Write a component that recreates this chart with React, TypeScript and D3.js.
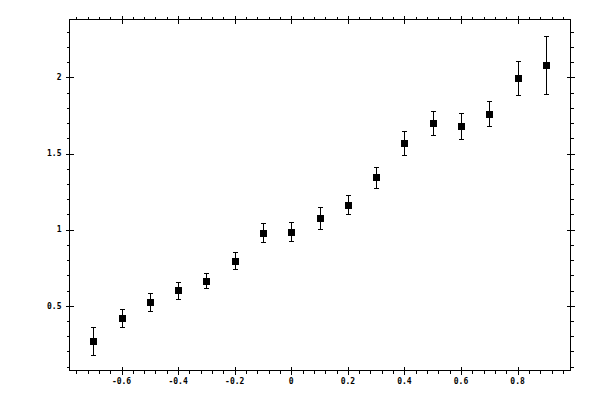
import React from 'react';
import * as d3 from 'd3';

const xValues = [-0.7, -0.6, -0.5, -0.4, -0.3, -0.2, -0.1, 0, 0.1, 0.2, 0.3, 0.4, 0.5, 0.6, 0.7, 0.8, 0.9];
const yValues = [0.27, 0.42, 0.526, 0.603, 0.664, 0.795, 0.981, 0.986, 1.077, 1.165, 1.343, 1.569, 1.70, 1.681, 1.76, 1.996, 2.083];
const yErrors = [0.09, 0.062, 0.06, 0.056, 0.05, 0.056, 0.063, 0.063, 0.07, 0.065, 0.07, 0.08, 0.078, 0.084, 0.082, 0.11, 0.19];

const xMajorTicks = [-0.6, -0.4, -0.2, 0, 0.2, 0.4, 0.6, 0.8];
const xTickLabels = ['-0.6', '-0.4', '-0.2', '0', '0.2', '0.4', '0.6', '0.8'];
const yMajorTicks = [0.5, 1, 1.5, 2];
const yTickLabels = ['0.5', '1', '1.5', '2'];

const width = 600;
const height = 400;
const left = 69.5;
const right = 570.5;
const top = 19.5;
const bottom = 370.5;

const App: React.FC = () => {
  const x = d3.scaleLinear().domain([-0.784, 0.987]).range([left, right]);
  const y = d3.scaleLinear().domain([0.075, 2.38]).range([bottom, top]);

  // minor ticks every 0.04 on x and 0.1 on y
  const xMinor = d3.range(-0.76, 0.99, 0.04).filter(v => !xMajorTicks.some(m => Math.abs(m - v) < 1e-6));
  const yMinor = d3.range(0.1, 2.35, 0.1).filter(v => !yMajorTicks.some(m => Math.abs(m - v) < 1e-6));

  const px = (v: number) => Math.round(x(v)) + 0.5;
  const py = (v: number) => Math.round(y(v)) + 0.5;

  const font = { fontFamily: '"DejaVu Sans Mono", monospace', fontSize: 8, fontWeight: 'bold' as const };

  return (
    <svg width={width} height={height} style={{ position: 'absolute', left: 0, top: 0, background: '#fff' }}>
      <g stroke="#000" strokeWidth={1} shapeRendering="crispEdges" fill="none">
        <rect x={left} y={top} width={right - left} height={bottom - top} />
        {xMinor.map((v, i) => (
          <g key={'xm' + i}>
            <line x1={px(v)} x2={px(v)} y1={bottom} y2={bottom + 3} />
            <line x1={px(v)} x2={px(v)} y1={top} y2={top - 3} />
          </g>
        ))}
        {xMajorTicks.map((v, i) => (
          <g key={'xM' + i}>
            <line x1={px(v)} x2={px(v)} y1={bottom - 4} y2={bottom + 4} />
            <line x1={px(v)} x2={px(v)} y1={top - 4} y2={top + 4} />
          </g>
        ))}
        {yMinor.map((v, i) => (
          <g key={'ym' + i}>
            <line x1={left - 3} x2={left} y1={py(v)} y2={py(v)} />
            <line x1={right} x2={right + 3} y1={py(v)} y2={py(v)} />
          </g>
        ))}
        {yMajorTicks.map((v, i) => (
          <g key={'yM' + i}>
            <line x1={left - 4} x2={left + 4} y1={py(v)} y2={py(v)} />
            <line x1={right - 4} x2={right + 4} y1={py(v)} y2={py(v)} />
          </g>
        ))}
      </g>

      <g {...font} fill="#000">
        {xMajorTicks.map((v, i) => (
          <text key={'xl' + i} x={x(v)} y={383.5} textAnchor="middle">{xTickLabels[i]}</text>
        ))}
        {yMajorTicks.map((v, i) => (
          <text key={'yl' + i} x={61.5} y={y(v)} dy="0.35em" textAnchor="end">{yTickLabels[i]}</text>
        ))}
      </g>

      <g stroke="#000" strokeWidth={1} shapeRendering="crispEdges">
        {xValues.map((v, i) => {
          const cx = px(v);
          const yt = py(yValues[i] + yErrors[i]);
          const yb = py(yValues[i] - yErrors[i]);
          return (
            <g key={'e' + i}>
              <line x1={cx} x2={cx} y1={yt} y2={yb} />
              <line x1={cx - 2.5} x2={cx + 2.5} y1={yt} y2={yt} />
              <line x1={cx - 2.5} x2={cx + 2.5} y1={yb} y2={yb} />
            </g>
          );
        })}
      </g>
      <g fill="#000">
        {xValues.map((v, i) => (
          <rect key={'p' + i} x={Math.round(x(v)) - 3} y={Math.round(y(yValues[i])) - 3} width={7} height={7} />
        ))}
      </g>
    </svg>
  );
};

export default App;
